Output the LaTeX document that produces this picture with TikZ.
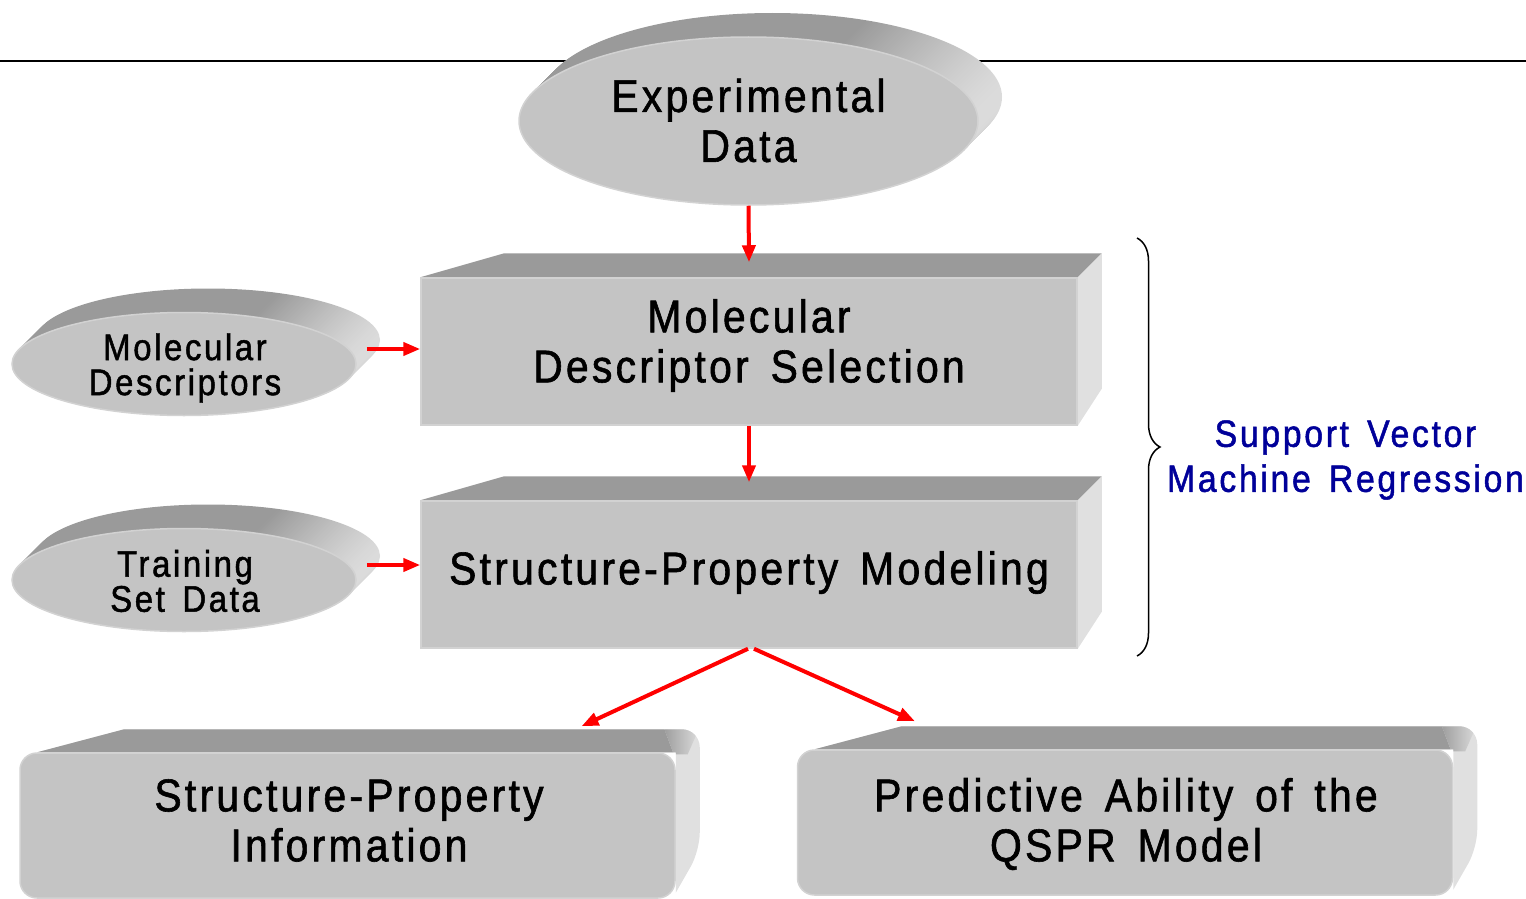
\documentclass[tikz,border=0pt]{standalone}
\usepackage{fontspec}
\setmainfont{Liberation Sans}[FakeStretch=0.89,LetterSpace=7,WordSpace=1.5,FakeBold=1.3]
\usetikzlibrary{arrows.meta,calc,backgrounds,decorations.pathreplacing,shapes.geometric}

\definecolor{facec}{HTML}{C4C4C4}
\definecolor{topc}{HTML}{9A9A9A}
\definecolor{sidec}{HTML}{E0E0E0}
\definecolor{rimc}{HTML}{D2D2D2}
\definecolor{extl}{HTML}{DCDCDC}
\definecolor{arrowred}{HTML}{FF0000}
\definecolor{svmblue}{HTML}{000099}

% dark on the left, lighter towards the right end of the extruded rim
\pgfdeclarehorizontalshading{discshade}{100bp}{color(0bp)=(topc); color(25bp)=(topc); color(60bp)=(topc); color(75bp)=(extl); color(100bp)=(extl)}

% extruded rim behind an elliptic node: #1 node, #2 x radius, #3 y radius
\newcommand\discext[3]{%
  \foreach \k in {24,23,...,1}{%
    \shade[shading=discshade] ($(#1.center)+(\k,-\k)$) ellipse [x radius=#2, y radius=#3];
  }%
}
% top and right faces behind a square-cornered slab node
\newcommand\slabext[1]{%
  \fill[topc] (#1.north west) -- ($(#1.north west)+(84,-24)$) -- ($(#1.north east)+(24,-24)$) -- (#1.north east) -- cycle;
  \fill[sidec] (#1.north east) -- ($(#1.north east)+(24,-24)$) -- ($(#1.south east)+(24,-37)$) -- (#1.south east) -- cycle;
}
% top and right faces behind a round-cornered tray node
\newcommand\trayext[1]{%
  \def\traysil{($(#1.north west)+(18,0)$) -- ($(#1.north west)+(105,-23)$) [rounded corners=18pt] -- ($(#1.north east)+(24,-23)$) -- ($(#1.south east)+(24,-48)$) [sharp corners] -- ($(#1.south east)+(0,-6)$) -- (#1.north east) -- cycle}%
  \fill[sidec] \traysil;
  \begin{scope}
    \clip \traysil;
    \fill[topc] ($(#1.north west)+(-5,-30)$) -- ($(#1.north east)+(-14,-30)$) -- ($(#1.north east)+(-2,2)$) -- ($(#1.north west)+(-5,2)$) -- cycle;
    \shade[left color=topc,right color=sidec] ($(#1.north east)+(-14,-30)$) -- ($(#1.north east)+(26,-30)$) -- ($(#1.north east)+(12,2)$) -- ($(#1.north east)+(-2,2)$) -- cycle;
  \end{scope}
}

\begin{document}
\begin{tikzpicture}[x=1pt,y=-1pt,
  face/.style={fill=facec,draw=rimc,line width=1.5pt,inner sep=0pt},
  disc/.style={face,ellipse},
  slab/.style={face,rectangle,minimum width=656pt,minimum height=147pt},
  tray/.style={face,rectangle,rounded corners=17pt,minimum width=655pt,minimum height=145pt},
  bigtext/.style={align=center,inner sep=0pt,font=\fontsize{46}{50}\selectfont},
  smalltext/.style={align=center,inner sep=0pt,font=\fontsize{37}{35}\selectfont},
  flow/.style={draw=arrowred,line width=4pt,-{Triangle[length=17pt,width=13pt]}},
]
\useasboundingbox (0,0) rectangle (1526,899);

% faces
\node[disc,minimum width=459pt,minimum height=168pt] (exp) at (748.5,121) {};
\node[slab] (sel) at (749,351.5) {};
\node[slab] (mod) at (749,574.5) {};
\node[disc,minimum width=344pt,minimum height=103pt] (md) at (184,364) {};
\node[disc,minimum width=344pt,minimum height=103pt] (tsd) at (184,580) {};
\node[tray] (spi) at (347.5,825.5) {};
\node[tray] (pred) at (1125,822.5) {};

% labels
\node[bigtext] (expT) at (748.5,120.5) {Experimental\\Data};
\node[bigtext] (selT) at (749,345.5) {Molecular\\Descriptor Selection};
\node[bigtext] (modT) at (749,572.5) {Structure-Property Modeling};
\node[smalltext] (mdT) at (185,368) {Molecular\\Descriptors};
\node[smalltext] (tsdT) at (185,581) {Training\\Set Data};
\node[bigtext] (spiT) at (349,820.5) {Structure-Property\\Information};
\node[bigtext] (predT) at (1126,824) {Predictive Ability of the\\QSPR Model};
\node[align=center,inner sep=0pt,text=svmblue,font=\fontsize{38}{45}\selectfont] (svm) at (1345.5,460) {Support Vector\\Machine Regression};

% rule, extrusions
\begin{pgfonlayer}{background}
  \draw[line width=1.5pt] (0,61) -- (1526,61);
  \discext{exp}{229.5pt}{84pt}
  \discext{md}{172pt}{51.5pt}
  \discext{tsd}{172pt}{51.5pt}
  \slabext{sel}
  \slabext{mod}
  \trayext{spi}
  \trayext{pred}
\end{pgfonlayer}

% connectors
\draw[flow] (exp.south) -- ([yshift=15pt]sel.north);
\draw[flow] (sel.south) -- ([yshift=18pt]mod.north);
\coordinate (mdout) at ([shift={(10pt,15pt)}]md.east);
\draw[flow] (mdout) -- (mdout -| sel.west);
\coordinate (tsdout) at ([shift={(10pt,15pt)}]tsd.east);
\draw[flow] (tsdout) -- (tsdout -| mod.west);
\draw[flow] ([xshift=-1pt]mod.south) -- ([shift={(234pt,26pt)}]spi.north);
\draw[flow] ([xshift=5pt]mod.south) -- ([shift={(-210pt,28pt)}]pred.north);

% brace spanning the two modelling steps
\coordinate (braceTop) at (1137,238);
\coordinate (braceBot) at (1137,656);
\draw[line width=1.5pt,decorate,decoration={brace,amplitude=23pt}] (braceTop) -- (braceBot);
\end{tikzpicture}
\end{document}
